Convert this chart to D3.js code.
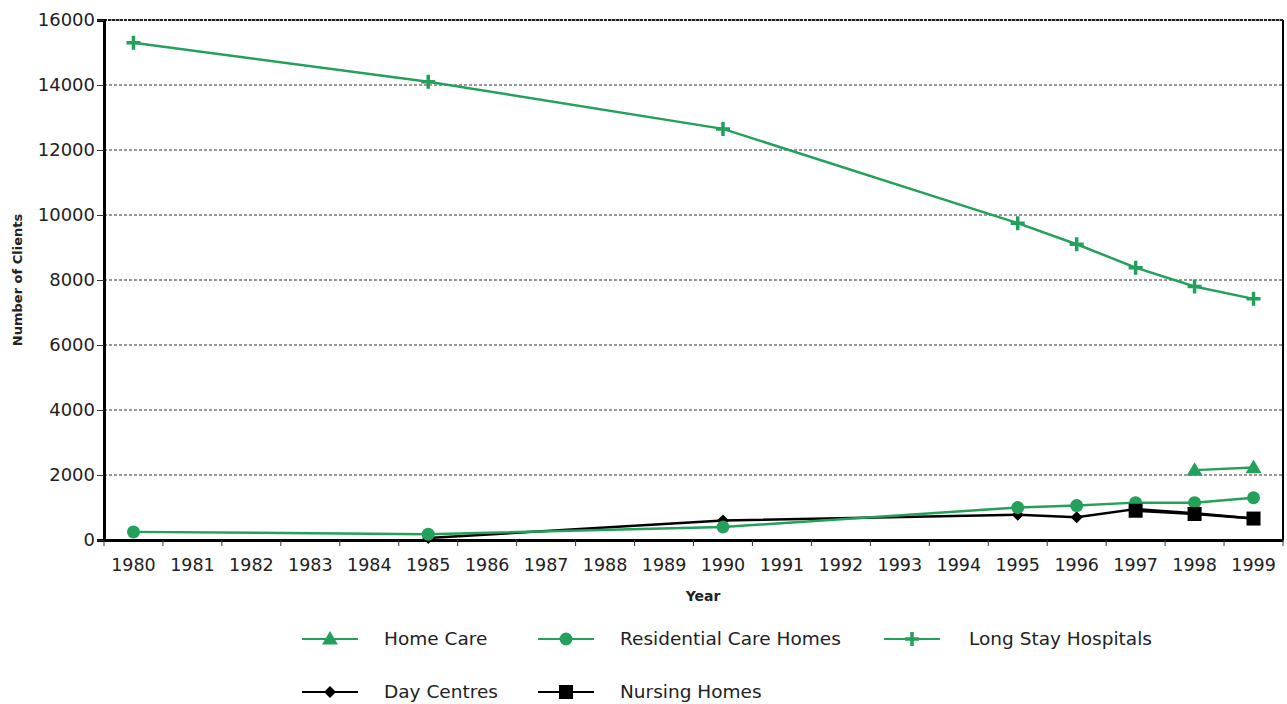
<!DOCTYPE html>
<html>
<head>
<meta charset="utf-8">
<script src="https://cdn.jsdelivr.net/npm/d3@7"></script>
<style>
  html, body { margin: 0; padding: 0; background: #fff; }
  svg { display: block; }
  text { font-family: "DejaVu Sans", sans-serif; fill: #222; }
</style>
</head>
<body>
<svg id="chart" width="1287" height="704"></svg>
<script>
const years = ["1980","1981","1982","1983","1984","1985","1986","1987","1988","1989","1990","1991","1992","1993","1994","1995","1996","1997","1998","1999"];
const yTicks = [0, 2000, 4000, 6000, 8000, 10000, 12000, 14000, 16000];
const homeCare =    [null,null,null,null,null,null,null,null,null,null,null,null,null,null,null,null,null,null,2150,2230];
const residential = [250,null,null,null,null,180,null,null,null,null,400,null,null,null,null,1000,1060,1150,1150,1300];
const longStay =    [15300,null,null,null,null,14100,null,null,null,null,12650,null,null,null,null,9750,9100,8380,7800,7420];
const dayCentres =  [null,null,null,null,null,60,null,null,null,null,600,null,null,null,null,780,700,950,820,660];
const nursingHomes =[null,null,null,null,null,null,null,null,null,null,null,null,null,null,null,null,null,900,800,660];

const GREEN = "#23a05a";
const BLACK = "#000";

const series = [
  { name: "Day Centres", values: dayCentres, color: BLACK, marker: "diamond" },
  { name: "Long Stay Hospitals", values: longStay, color: GREEN, marker: "plus" },
  { name: "Home Care", values: homeCare, color: GREEN, marker: "triangle" },
  { name: "Residential Care Homes", values: residential, color: GREEN, marker: "circle" },
  { name: "Nursing Homes", values: nursingHomes, color: BLACK, marker: "square" }
];

const svg = d3.select("#chart");
const pLeft = 104, pRight = 1283, pTop = 20, pBottom = 540;

const x = d3.scaleBand().domain(years).range([pLeft, pRight]);
const y = d3.scaleLinear().domain([0, 16000]).range([pBottom, pTop]);
const cx = d => x(d) + x.bandwidth() / 2;

// gridlines
svg.append("g").selectAll("line").data(yTicks.filter(t => t > 0)).join("line")
  .attr("x1", pLeft).attr("x2", pRight)
  .attr("y1", d => y(d)).attr("y2", d => y(d))
  .attr("stroke", "#333").attr("stroke-width", 1.2).attr("stroke-dasharray", "3,2");

// right border
svg.append("line").attr("x1", pRight).attr("x2", pRight).attr("y1", pTop).attr("y2", pBottom)
  .attr("stroke", "#000").attr("stroke-width", 2);
// top border
svg.append("line").attr("x1", pLeft).attr("x2", pRight).attr("y1", pTop).attr("y2", pTop)
  .attr("stroke", "#222").attr("stroke-width", 2).attr("stroke-dasharray", "3,1");

// y axis
const yAxis = svg.append("g").attr("transform", `translate(${pLeft},0)`)
  .call(d3.axisLeft(y).tickValues(yTicks).tickSize(7).tickPadding(2).tickFormat(d3.format("d")));
yAxis.select(".domain").attr("stroke", "#000").attr("stroke-width", 3);
yAxis.selectAll(".tick line").attr("stroke", "#333").attr("stroke-width", 1);
yAxis.selectAll(".tick text").attr("font-size", 18).attr("font-family", "DejaVu Sans").attr("fill", "#222");

// x axis
const xAxis = svg.append("g").attr("transform", `translate(0,${pBottom})`)
  .call(d3.axisBottom(x).tickSize(0).tickPadding(19));
xAxis.select(".domain").attr("stroke", "#000").attr("stroke-width", 3);
xAxis.selectAll(".tick text").attr("font-size", 17.5).attr("font-family", "DejaVu Sans").attr("fill", "#222");
// tick marks at band boundaries
svg.append("g").selectAll("line").data(years.concat(["end"])).join("line")
  .attr("x1", (d, i) => pLeft + i * x.bandwidth()).attr("x2", (d, i) => pLeft + i * x.bandwidth())
  .attr("y1", pBottom).attr("y2", pBottom + 6)
  .attr("stroke", "#333").attr("stroke-width", 1);

// axis titles
svg.append("text").attr("x", 703).attr("y", 601).attr("text-anchor", "middle")
  .attr("font-size", 14).attr("font-weight", "bold").text("Year");
svg.append("text").attr("transform", "translate(22,280) rotate(-90)").attr("text-anchor", "middle")
  .attr("font-size", 13).attr("font-weight", "bold").text("Number of Clients");

function drawMarker(g, type, px, py, color) {
  if (type === "circle") {
    g.append("circle").attr("cx", px).attr("cy", py).attr("r", 6.5).attr("fill", color);
  } else if (type === "triangle") {
    const s = 8;
    g.append("path").attr("d", `M${px},${py - s} L${px + s},${py + s * 0.7} L${px - s},${py + s * 0.7} Z`).attr("fill", color);
  } else if (type === "plus") {
    g.append("path").attr("d", `M${px - 7},${py} H${px + 7} M${px},${py - 7} V${py + 7}`)
      .attr("stroke", color).attr("stroke-width", 3.5);
  } else if (type === "diamond") {
    const s = 6;
    g.append("path").attr("d", `M${px},${py - s} L${px + s},${py} L${px},${py + s} L${px - s},${py} Z`).attr("fill", color);
  } else if (type === "square") {
    g.append("rect").attr("x", px - 7).attr("y", py - 7).attr("width", 14).attr("height", 14).attr("fill", color);
  }
}

const line = d3.line().defined(d => d.v != null).x(d => cx(d.year)).y(d => y(d.v));

series.forEach(s => {
  const pts = years.map((yr, i) => ({ year: yr, v: s.values[i] })).filter(d => d.v != null);
  const g = svg.append("g");
  g.append("path").datum(pts).attr("d", line).attr("fill", "none")
    .attr("stroke", s.color).attr("stroke-width", 2.5);
  pts.forEach(p => drawMarker(g, s.marker, cx(p.year), y(p.v), s.color));
});

// legend
const legend = [
  { name: "Home Care", color: GREEN, marker: "triangle", lx: 302, ly: 639, tx: 384 },
  { name: "Residential Care Homes", color: GREEN, marker: "circle", lx: 538, ly: 639, tx: 620 },
  { name: "Long Stay Hospitals", color: GREEN, marker: "plus", lx: 884, ly: 639, tx: 969 },
  { name: "Day Centres", color: BLACK, marker: "diamond", lx: 302, ly: 692, tx: 384 },
  { name: "Nursing Homes", color: BLACK, marker: "square", lx: 538, ly: 692, tx: 620 }
];
const lg = svg.append("g");
legend.forEach(l => {
  lg.append("line").attr("x1", l.lx).attr("x2", l.lx + 56).attr("y1", l.ly).attr("y2", l.ly)
    .attr("stroke", l.color).attr("stroke-width", 2);
  drawMarker(lg, l.marker, l.lx + 28, l.ly, l.color);
  lg.append("text").attr("x", l.tx).attr("y", l.ly + 6).attr("font-size", 18.5).text(l.name);
});
</script>
</body>
</html>
